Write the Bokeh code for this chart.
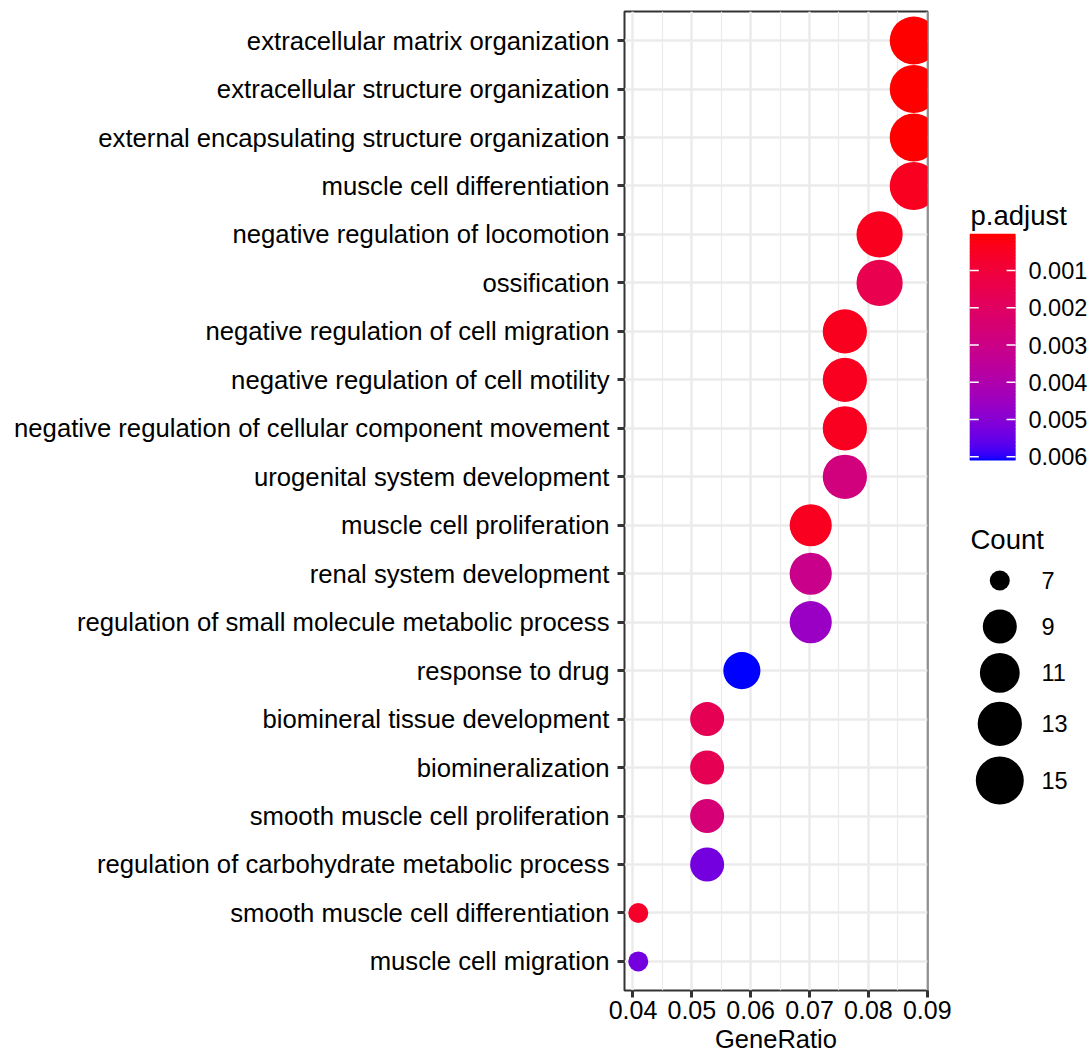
import numpy as np
from bokeh.plotting import figure
from bokeh.models import (FactorRange, Range1d, FixedTicker, LinearColorMapper,
                          ColumnDataSource, NumeralTickFormatter)
from bokeh.transform import transform
from bokeh.layouts import row
from bokeh.core.properties import value
from bokeh.embed import file_html
from bokeh.resources import INLINE

# ---------------- data (top to bottom) ----------------
terms = [
    "extracellular matrix organization",
    "extracellular structure organization",
    "external encapsulating structure organization",
    "muscle cell differentiation",
    "negative regulation of locomotion",
    "ossification",
    "negative regulation of cell migration",
    "negative regulation of cell motility",
    "negative regulation of cellular component movement",
    "urogenital system development",
    "muscle cell proliferation",
    "renal system development",
    "regulation of small molecule metabolic process",
    "response to drug",
    "biomineral tissue development",
    "biomineralization",
    "smooth muscle cell proliferation",
    "regulation of carbohydrate metabolic process",
    "smooth muscle cell differentiation",
    "muscle cell migration",
]
gene_ratio = [0.0877, 0.0877, 0.0877, 0.0877, 0.0819, 0.0819, 0.0760, 0.0760,
              0.0760, 0.0760, 0.0702, 0.0702, 0.0702, 0.0585, 0.0526, 0.0526,
              0.0526, 0.0526, 0.0409, 0.0409]
counts = [15, 15, 15, 15, 14, 14, 13, 13, 13, 13, 12, 12, 12, 10, 9, 9, 9, 9, 7, 7]
p_adjust = [0.000013, 0.000018, 0.000020, 0.00042, 0.00040, 0.00150, 0.00040,
            0.00042, 0.00042, 0.00270, 0.00045, 0.00310, 0.00460, 0.00610,
            0.00165, 0.00165, 0.00255, 0.00530, 0.00065, 0.00530]

x_ticks = [0.04, 0.05, 0.06, 0.07, 0.08, 0.09]
x_minor = [0.045, 0.055, 0.065, 0.075, 0.085]
cb_ticks = [0.001, 0.002, 0.003, 0.004, 0.005, 0.006]
size_breaks = [7, 9, 11, 13, 15]

# ---------------- styles ----------------
FONT = "Liberation Sans"
GRID = "#EBEBEB"
DARK = "#333333"
D_MIN, D_MAX = 20.0, 48.0


def srgb_to_lab(rgb):
    c = np.asarray(rgb, float) / 255.0
    lin = np.where(c <= 0.04045, c / 12.92, ((c + 0.055) / 1.055) ** 2.4)
    M = np.array([[0.4124564, 0.3575761, 0.1804375],
                  [0.2126729, 0.7151522, 0.0721750],
                  [0.0193339, 0.1191920, 0.9503041]])
    xyz = M @ lin / np.array([0.95047, 1.0, 1.08883])
    d = 6 / 29
    f = np.where(xyz > d ** 3, np.cbrt(xyz), xyz / (3 * d * d) + 4 / 29)
    return np.array([116 * f[1] - 16, 500 * (f[0] - f[1]), 200 * (f[1] - f[2])])


def lab_to_hex(lab):
    L, a, b = lab
    fy = (L + 16) / 116
    fx = fy + a / 500
    fz = fy - b / 200
    d = 6 / 29
    f = np.array([fx, fy, fz])
    xyz = np.where(f > d, f ** 3, 3 * d * d * (f - 4 / 29)) * np.array([0.95047, 1.0, 1.08883])
    Minv = np.array([[3.2404542, -1.5371385, -0.4985314],
                     [-0.9692660, 1.8760108, 0.0415560],
                     [0.0556434, -0.2040259, 1.0572252]])
    lin = np.clip(Minv @ xyz, 0, 1)
    c = np.where(lin <= 0.0031308, 12.92 * lin, 1.055 * lin ** (1 / 2.4) - 0.055)
    c = np.clip(np.round(c * 255), 0, 255).astype(int)
    return "#%02x%02x%02x" % tuple(c)


lab_lo = srgb_to_lab([255, 0, 0])
lab_hi = srgb_to_lab([0, 0, 255])
palette = [lab_to_hex(lab_lo + (lab_hi - lab_lo) * t) for t in np.linspace(0, 1, 256)]

vmin, vmax = min(p_adjust), max(p_adjust)
mapper = LinearColorMapper(palette=palette, low=vmin, high=vmax)

cmin, cmax = min(counts), max(counts)


def dot_size(c):
    return D_MIN + (D_MAX - D_MIN) * np.sqrt((c - cmin) / (cmax - cmin))


src = ColumnDataSource(dict(term=terms, x=gene_ratio, count=counts, p=p_adjust,
                            size=[dot_size(c) for c in counts]))

xr = max(gene_ratio) - min(gene_ratio)
x_lo = min(gene_ratio) - 0.05 * xr
x_hi = max(gene_ratio) + 0.05 * xr

# ---------------- main panel ----------------
W_MAIN, H = 954, 1059
TOP, BOTTOM = 11, 69
p = figure(width=W_MAIN, height=H,
           y_range=FactorRange(factors=terms[::-1], range_padding=0.1,
                               range_padding_units="absolute"),
           x_range=Range1d(x_lo, x_hi),
           toolbar_location=None, output_backend="svg",
           min_border_left=624, min_border_right=27,
           min_border_top=TOP, min_border_bottom=BOTTOM)
p.background_fill_color = "white"
p.border_fill_color = "white"
p.outline_line_color = DARK
p.outline_line_width = 2

p.xaxis.ticker = FixedTicker(ticks=x_ticks, minor_ticks=x_minor)
p.xaxis.formatter = NumeralTickFormatter(format="0.00")
p.xgrid.ticker = FixedTicker(ticks=x_ticks, minor_ticks=x_minor)
p.xgrid.grid_line_color = GRID
p.xgrid.grid_line_width = 2.5
p.xgrid.minor_grid_line_color = GRID
p.xgrid.minor_grid_line_width = 1.2
p.ygrid.grid_line_color = GRID
p.ygrid.grid_line_width = 2.5

for ax in (p.xaxis[0], p.yaxis[0]):
    ax.axis_line_color = None
    ax.major_tick_line_color = DARK
    ax.major_tick_line_width = 3
    ax.major_tick_out = 7
    ax.major_tick_in = 0
    ax.minor_tick_line_color = None
    ax.major_label_text_font = FONT
    ax.major_label_text_color = "black"

p.yaxis.major_label_text_font_size = "25.7px"
p.yaxis.major_label_standoff = 8
p.xaxis.major_label_text_font_size = "25px"
p.xaxis.major_label_standoff = 3
p.xaxis.axis_label = "GeneRatio"
p.xaxis.axis_label_text_font = FONT
p.xaxis.axis_label_text_font_size = "25.5px"
p.xaxis.axis_label_text_font_style = "normal"
p.xaxis.axis_label_text_color = "black"
p.xaxis.axis_label_standoff = 3

p.scatter(x="x", y="term", size="size", source=src,
          fill_color=transform("p", mapper), line_color=None)

# ---------------- legend panel (pixel coordinates; frame aligned with main) ----------------
W_LEG = 1092 - W_MAIN
lf = figure(width=W_LEG, height=H, x_range=Range1d(0, W_LEG),
            y_range=Range1d(H - BOTTOM, TOP),
            toolbar_location=None, output_backend="svg",
            x_axis_location=None, y_axis_location=None,
            min_border_left=0, min_border_right=0,
            min_border_top=TOP, min_border_bottom=BOTTOM)
lf.grid.visible = False
lf.outline_line_color = None
lf.background_fill_color = "white"
lf.border_fill_color = "white"

CB_L, CB_R, CB_T, CB_B = 15.3, 61.0, 233.3, 460.0


def cb_y(v):
    return CB_T + (v - vmin) / (vmax - vmin) * (CB_B - CB_T)


edges = np.linspace(vmin, vmax, 161)
mids = (edges[:-1] + edges[1:]) / 2
cb_src = ColumnDataSource(dict(v=mids, top=[cb_y(e) for e in edges[:-1]],
                               bottom=[min(cb_y(e) + 1.0, CB_B) for e in edges[1:]]))
lf.quad(left=CB_L, right=CB_R, top="top", bottom="bottom", source=cb_src,
        fill_color=transform("v", mapper), line_color=None)

tick_y = [cb_y(t) for t in cb_ticks]
lf.segment(x0=[CB_L] * len(tick_y), x1=[CB_L + 9] * len(tick_y), y0=tick_y, y1=tick_y,
           line_color="white", line_width=1.5)
lf.segment(x0=[CB_R - 9] * len(tick_y), x1=[CB_R] * len(tick_y), y0=tick_y, y1=tick_y,
           line_color="white", line_width=1.5)
lf.text(x=[74] * len(tick_y), y=tick_y, text=[f"{t:.3f}" for t in cb_ticks],
        text_font=value(FONT), text_font_size=value("23.5px"), text_color="black",
        text_baseline="middle", text_align="left")
lf.text(x=[16], y=[215], text=["p.adjust"], text_font=value(FONT),
        text_font_size=value("27.5px"), text_color="black",
        text_baseline="alphabetic", text_align="left")

# size legend
leg_y = [580, 626, 672.3, 723.3, 780]
lf.scatter(x=[45.3] * len(size_breaks), y=leg_y, size=[dot_size(c) for c in size_breaks],
           fill_color="black", line_color=None)
lf.text(x=[87] * len(size_breaks), y=leg_y, text=[str(c) for c in size_breaks],
        text_font=value(FONT), text_font_size=value("23.5px"), text_color="black",
        text_baseline="middle", text_align="left")
lf.text(x=[16], y=[539], text=["Count"], text_font=value(FONT),
        text_font_size=value("27.5px"), text_color="black",
        text_baseline="alphabetic", text_align="left")

layout = row(p, lf)
open("out.html", "w").write(file_html(layout, INLINE))
